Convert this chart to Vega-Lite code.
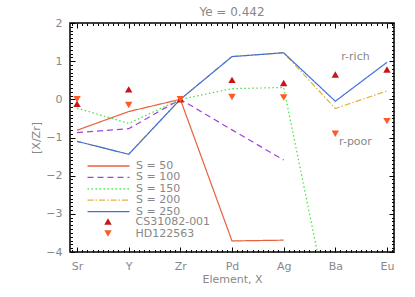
{
  "$schema": "https://vega.github.io/schema/vega-lite/v6.json",
  "width": 324,
  "height": 229,
  "autosize": "none",
  "padding": {"left": 70, "top": 23, "right": 21, "bottom": 45},
  "background": "white",
  "title": {"text": "Ye = 0.442", "color": "#888888", "fontSize": 12, "fontWeight": "normal", "font": "DejaVu Sans", "offset": -2},
  "config": {
    "view": {"stroke": "black", "strokeWidth": 1.5},
    "font": "DejaVu Sans",
    "axis": {"labelColor": "#888888", "titleColor": "#888888", "labelFont": "DejaVu Sans", "titleFont": "DejaVu Sans", "labelFontSize": 11, "titleFontSize": 11, "titleFontWeight": "normal", "grid": false, "domain": false, "ticks": true, "tickColor": "black", "tickOpacity": 1, "tickWidth": 1, "labelOverlap": false, "labelFlush": false, "labelBound": false},
    "legend": {"labelColor": "#888888", "labelFont": "DejaVu Sans", "labelFontSize": 11, "padding": 0, "rowPadding": 0}
  },
  "datasets": {
    "models": [
      {"model": "S = 50", "idx": 0, "val": -0.81},
      {"model": "S = 50", "idx": 1, "val": -0.32},
      {"model": "S = 50", "idx": 2, "val": 0},
      {"model": "S = 50", "idx": 3, "val": -3.71},
      {"model": "S = 50", "idx": 4, "val": -3.69},
      {"model": "S = 100", "idx": 0, "val": -0.87},
      {"model": "S = 100", "idx": 1, "val": -0.77},
      {"model": "S = 100", "idx": 2, "val": 0},
      {"model": "S = 100", "idx": 3, "val": -0.8},
      {"model": "S = 100", "idx": 4, "val": -1.59},
      {"model": "S = 150", "idx": 0, "val": -0.23},
      {"model": "S = 150", "idx": 1, "val": -0.63},
      {"model": "S = 150", "idx": 2, "val": 0},
      {"model": "S = 150", "idx": 3, "val": 0.28},
      {"model": "S = 150", "idx": 4, "val": 0.31},
      {"model": "S = 150", "idx": 5, "val": -6.3},
      {"model": "S = 200", "idx": 0, "val": -1.1},
      {"model": "S = 200", "idx": 1, "val": -1.44},
      {"model": "S = 200", "idx": 2, "val": 0},
      {"model": "S = 200", "idx": 3, "val": 1.12},
      {"model": "S = 200", "idx": 4, "val": 1.22},
      {"model": "S = 200", "idx": 5, "val": -0.24},
      {"model": "S = 200", "idx": 6, "val": 0.22},
      {"model": "S = 250", "idx": 0, "val": -1.1},
      {"model": "S = 250", "idx": 1, "val": -1.44},
      {"model": "S = 250", "idx": 2, "val": 0},
      {"model": "S = 250", "idx": 3, "val": 1.12},
      {"model": "S = 250", "idx": 4, "val": 1.22},
      {"model": "S = 250", "idx": 5, "val": -0.05},
      {"model": "S = 250", "idx": 6, "val": 0.97}
    ],
    "stars": [
      {"star": "CS31082-001", "idx": 0, "val": -0.12},
      {"star": "CS31082-001", "idx": 1, "val": 0.26},
      {"star": "CS31082-001", "idx": 2, "val": 0},
      {"star": "CS31082-001", "idx": 3, "val": 0.51},
      {"star": "CS31082-001", "idx": 4, "val": 0.43},
      {"star": "CS31082-001", "idx": 5, "val": 0.65},
      {"star": "CS31082-001", "idx": 6, "val": 0.78},
      {"star": "HD122563", "idx": 0, "val": 0.0},
      {"star": "HD122563", "idx": 1, "val": -0.15},
      {"star": "HD122563", "idx": 2, "val": 0},
      {"star": "HD122563", "idx": 3, "val": 0.06},
      {"star": "HD122563", "idx": 4, "val": 0.05},
      {"star": "HD122563", "idx": 5, "val": -0.9},
      {"star": "HD122563", "idx": 6, "val": -0.57}
    ],
    "notes": [
      {"label": "r-rich", "idx": 5.39, "val": 1.1},
      {"label": "r-poor", "idx": 5.39, "val": -1.11}
    ]
  },
  "layer": [
    {
      "data": {"name": "models"},
      "mark": {"type": "line", "clip": true, "strokeWidth": 1.2},
      "encoding": {
        "x": {"field": "idx", "type": "quantitative",
          "scale": {"domain": [-0.136, 6.136], "nice": false, "zero": false},
          "axis": {"orient": "bottom", "title": "Element, X", "titlePadding": 2, "labelPadding": 13, "tickSize": -5,
            "values": [0, 1, 2, 3, 4, 5, 6],
            "labelExpr": "['Sr','Y','Zr','Pd','Ag','Ba','Eu'][round(datum.value)]"
          }},
        "y": {"field": "val", "type": "quantitative",
          "scale": {"domain": [-4, 2], "nice": false, "zero": false},
          "axis": {"orient": "left", "title": "[X/Zr]", "titlePadding": 4, "labelPadding": 13, "tickSize": -5,
            "values": [-4, -3, -2, -1, 0, 1, 2],
            "format": "d"
          }},
        "stroke": {"field": "model", "type": "nominal",
          "scale": {"domain": ["S = 50", "S = 100", "S = 150", "S = 200", "S = 250"], "range": ["#e8613c", "#a043dc", "#3fe03f", "#e0b43c", "#3f6fe0"]},
          "legend": {"orient": "none", "legendX": 33, "legendY": 137.5, "title": null, "symbolType": "M-5.25,0H5.25", "symbolSize": 64, "symbolStrokeWidth": 1.3, "labelOffset": 22, "rowPadding": -0.6}},
        "strokeDash": {"field": "model", "type": "nominal",
          "scale": {"domain": ["S = 50", "S = 100", "S = 150", "S = 200", "S = 250"], "range": [[1,0], [6,4], [1.5,2.5], [6,2,1.5,2], [1,0]]},
          "legend": {"orient": "none", "legendX": 33, "legendY": 137.5, "title": null, "symbolType": "M-5.25,0H5.25", "symbolSize": 64, "symbolStrokeWidth": 1.3, "labelOffset": 22, "rowPadding": -0.6}}
      }
    },
    {
      "data": {"name": "stars"},
      "transform": [{"filter": "datum.star == 'CS31082-001'"}],
      "mark": {"type": "point", "filled": true, "size": 55, "opacity": 1},
      "encoding": {
        "x": {"field": "idx", "type": "quantitative",
          "axis": {"orient": "top", "title": null, "labels": false, "tickSize": -5, "values": [0, 1, 2, 3, 4, 5, 6]}},
        "y": {"field": "val", "type": "quantitative",
          "axis": {"orient": "right", "title": null, "labels": false, "tickSize": -5, "values": [-4, -3, -2, -1, 0, 1, 2]}},
        "fill": {"field": "star", "type": "nominal",
          "scale": {"domain": ["CS31082-001", "HD122563"], "range": ["#c4161c", "#ff5a26"]},
          "legend": {"orient": "none", "legendX": 32.5, "legendY": 193, "title": null, "symbolSize": 55, "symbolStrokeWidth": 0, "labelOffset": 22}},
        "shape": {"field": "star", "type": "nominal",
          "scale": {"domain": ["CS31082-001", "HD122563"], "range": ["triangle-up", "triangle-down"]},
          "legend": {"orient": "none", "legendX": 32.5, "legendY": 193, "title": null, "symbolSize": 55, "symbolStrokeWidth": 0, "labelOffset": 22}}
      }
    },
    {
      "data": {"name": "stars"},
      "transform": [{"filter": "datum.star == 'HD122563'"}],
      "mark": {"type": "point", "filled": true, "size": 55, "opacity": 1},
      "encoding": {
        "x": {"field": "idx", "type": "quantitative",
          "axis": {"orient": "top", "title": null, "labels": false, "tickSize": -2.5,
            "values": [-0.1,0.1,0.2,0.3,0.4,0.5,0.6,0.7,0.8,0.9,1.1,1.2,1.3,1.4,1.5,1.6,1.7,1.8,1.9,2.1,2.2,2.3,2.4,2.5,2.6,2.7,2.8,2.9,3.1,3.2,3.3,3.4,3.5,3.6,3.7,3.8,3.9,4.1,4.2,4.3,4.4,4.5,4.6,4.7,4.8,4.9,5.1,5.2,5.3,5.4,5.5,5.6,5.7,5.8,5.9,6.1]}},
        "y": {"field": "val", "type": "quantitative",
          "axis": {"orient": "right", "title": null, "labels": false, "tickSize": -2.5,
            "values": [-3.9,-3.8,-3.7,-3.6,-3.5,-3.4,-3.3,-3.2,-3.1,-2.9,-2.8,-2.7,-2.6,-2.5,-2.4,-2.3,-2.2,-2.1,-1.9,-1.8,-1.7,-1.6,-1.5,-1.4,-1.3,-1.2,-1.1,-0.9,-0.8,-0.7,-0.6,-0.5,-0.4,-0.3,-0.2,-0.1,0.1,0.2,0.3,0.4,0.5,0.6,0.7,0.8,0.9,1.1,1.2,1.3,1.4,1.5,1.6,1.7,1.8,1.9]}},
        "fill": {"field": "star", "type": "nominal",
          "legend": {"orient": "none", "legendX": 32.5, "legendY": 193, "title": null, "symbolSize": 55, "symbolStrokeWidth": 0, "labelOffset": 22}},
        "shape": {"field": "star", "type": "nominal",
          "legend": {"orient": "none", "legendX": 32.5, "legendY": 193, "title": null, "symbolSize": 55, "symbolStrokeWidth": 0, "labelOffset": 22}}
      }
    },
    {
      "data": {"name": "notes"},
      "mark": {"type": "text", "color": "#888888", "fontSize": 11, "font": "DejaVu Sans", "align": "center", "baseline": "middle"},
      "encoding": {
        "x": {"field": "idx", "type": "quantitative",
          "axis": {"orient": "bottom", "title": null, "labels": false, "tickSize": -2.5,
            "values": [-0.1,0.1,0.2,0.3,0.4,0.5,0.6,0.7,0.8,0.9,1.1,1.2,1.3,1.4,1.5,1.6,1.7,1.8,1.9,2.1,2.2,2.3,2.4,2.5,2.6,2.7,2.8,2.9,3.1,3.2,3.3,3.4,3.5,3.6,3.7,3.8,3.9,4.1,4.2,4.3,4.4,4.5,4.6,4.7,4.8,4.9,5.1,5.2,5.3,5.4,5.5,5.6,5.7,5.8,5.9,6.1]}},
        "y": {"field": "val", "type": "quantitative",
          "axis": {"orient": "left", "title": null, "labels": false, "tickSize": -2.5,
            "values": [-3.9,-3.8,-3.7,-3.6,-3.5,-3.4,-3.3,-3.2,-3.1,-2.9,-2.8,-2.7,-2.6,-2.5,-2.4,-2.3,-2.2,-2.1,-1.9,-1.8,-1.7,-1.6,-1.5,-1.4,-1.3,-1.2,-1.1,-0.9,-0.8,-0.7,-0.6,-0.5,-0.4,-0.3,-0.2,-0.1,0.1,0.2,0.3,0.4,0.5,0.6,0.7,0.8,0.9,1.1,1.2,1.3,1.4,1.5,1.6,1.7,1.8,1.9]}},
        "text": {"field": "label", "type": "nominal"}
      }
    }
  ],
  "resolve": {"axis": {"x": "independent", "y": "independent"}}
}
